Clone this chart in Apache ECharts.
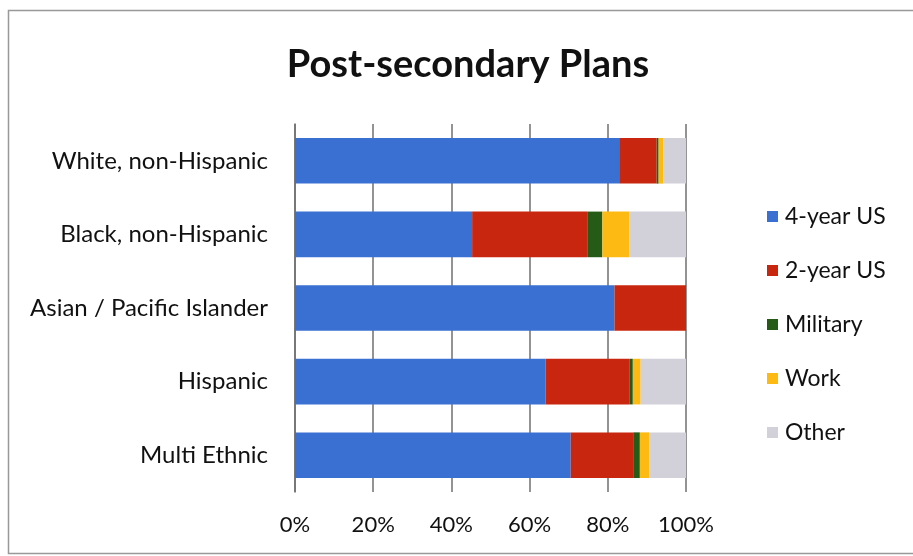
<!DOCTYPE html>
<html><head><meta charset="utf-8">
<script src="https://cdn.jsdelivr.net/npm/echarts@6/dist/echarts.min.js"></script>
<style>html,body{margin:0;padding:0;background:#fff}#c{width:913px;height:556px}</style>
</head><body><div id="c"></div>
<script>
var categories = ['White, non-Hispanic','Black, non-Hispanic','Asian / Pacific Islander','Hispanic','Multi Ethnic'];
var seriesNames = ['4-year US','2-year US','Military','Work','Other'];
var fourYear = [82.9, 45.3, 81.7, 64.1, 70.5];
var twoYear  = [9.6, 29.6, 18.3, 21.4, 16.0];
var military = [0.5, 3.7, 0, 0.9, 1.7];
var work     = [1.2, 6.9, 0, 2.0, 2.4];
var other    = [5.8, 14.5, 0, 11.6, 9.4];
var tickLabels = ['0%','20%','40%','60%','80%','100%'];
var colors = ['#3A70D2','#C8260F','#255A17','#FDBA12','#D2D0D9'];

var values = [fourYear, twoYear, military, work, other];
var font = 'Lato, "Open Sans", sans-serif';
var chart = echarts.init(document.getElementById('c'), null, {renderer:'canvas'});
chart.setOption({
  animation:false,
  backgroundColor:'#fff',
  title:{text:'Post-secondary Plans', left:463, top:41, textAlign:'center',
    textStyle:{fontFamily:font, fontWeight:'bold', fontSize:38, color:'#111'}},
  graphic:[{type:'rect', shape:{x:8.5,y:10.5,width:1000,height:543}, style:{fill:null, stroke:'#999', lineWidth:1.5}, silent:true}],
  legend:{orient:'vertical', left:762, top:200, itemGap:31, itemWidth:11, itemHeight:11,
    icon:'rect', data:seriesNames,
    textStyle:{fontFamily:font, fontSize:23, color:'#111', padding:[0,0,0,2]}},
  grid:{left:295, right:227, top:124, bottom:64},
  xAxis:{type:'value', min:0, max:100, interval:20,
    axisLabel:{formatter:function(v){return tickLabels[v/20];}, fontFamily:font, fontSize:22, color:'#111', margin:22},
    axisLine:{show:false}, axisTick:{show:false},
    splitLine:{show:true, lineStyle:{color:'#6f6f6f', width:1.5}}},
  yAxis:{type:'category', inverse:true, data:categories,
    axisLabel:{fontFamily:font, fontSize:24, color:'#111', margin:27},
    axisLine:{show:true, lineStyle:{color:'#6f6f6f', width:1.5}}, axisTick:{show:false}},
  series: seriesNames.map(function(n,i){
    return {name:n, type:'bar', stack:'total', barWidth:'62%', data:values[i],
      itemStyle:{color:colors[i]}};
  })
});
</script></body></html>
